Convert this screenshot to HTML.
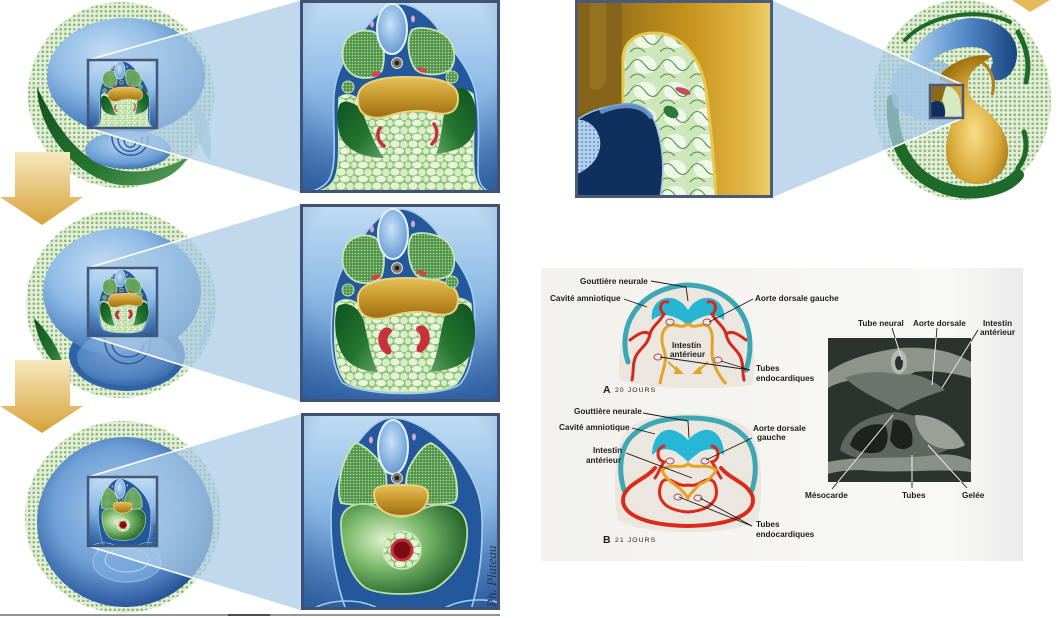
<!DOCTYPE html>
<html><head><meta charset="utf-8"><style>
html,body{margin:0;padding:0;background:#fff;}
svg{display:block;}
text{font-family:"Liberation Sans",Arial,sans-serif;}
.l{font-size:8.2px;font-weight:bold;fill:#1e1e1e;}
.ln{stroke:#1a1a1a;stroke-width:0.9;fill:none;}
</style></head><body>
<svg width="1058" height="618" viewBox="0 0 1058 618" xmlns="http://www.w3.org/2000/svg">
<defs>
<linearGradient id="bgB" x1="0" y1="0" x2="0" y2="1"><stop offset="0" stop-color="#c2dcf3"/><stop offset=".45" stop-color="#8dbbe6"/><stop offset="1" stop-color="#3b6fb2"/></linearGradient>
<radialGradient id="vig" cx=".5" cy=".3" r=".85"><stop offset=".55" stop-color="#1e4a8a" stop-opacity="0"/><stop offset="1" stop-color="#1e4a8a" stop-opacity=".55"/></radialGradient>
<radialGradient id="sph" cx=".38" cy=".32" r=".75"><stop offset="0" stop-color="#c6def4"/><stop offset=".45" stop-color="#8fbbe6"/><stop offset=".8" stop-color="#4f84c4"/><stop offset="1" stop-color="#2a5c9f"/></radialGradient>
<radialGradient id="sph3" cx=".45" cy=".42" r=".6"><stop offset="0" stop-color="#a9cdee"/><stop offset=".6" stop-color="#6d9fd6"/><stop offset=".9" stop-color="#3565a8"/><stop offset="1" stop-color="#234f90"/></radialGradient>
<radialGradient id="yolk" cx=".45" cy=".35" r=".7"><stop offset="0" stop-color="#b4d4f0"/><stop offset=".7" stop-color="#6b9ed6"/><stop offset="1" stop-color="#34669f"/></radialGradient>
<linearGradient id="gold" x1="0" y1="0" x2="0" y2="1"><stop offset="0" stop-color="#e6c05a"/><stop offset=".5" stop-color="#c4952a"/><stop offset="1" stop-color="#9c6d14"/></linearGradient>
<radialGradient id="goldR" cx=".5" cy=".6" r=".6"><stop offset="0" stop-color="#f8de88"/><stop offset=".6" stop-color="#d8a838"/><stop offset="1" stop-color="#a0720f"/></radialGradient>
<linearGradient id="goldH" x1="0" y1="0" x2="1" y2="0"><stop offset="0" stop-color="#7c5a12"/><stop offset=".3" stop-color="#a47a1c"/><stop offset=".6" stop-color="#c8961e"/><stop offset=".85" stop-color="#e0b444"/><stop offset="1" stop-color="#f0cf6c"/></linearGradient>
<linearGradient id="dg" x1="0" y1="0" x2="1" y2="1"><stop offset="0" stop-color="#0e5220"/><stop offset=".6" stop-color="#25752f"/><stop offset="1" stop-color="#5da062"/></linearGradient>
<linearGradient id="dg2" x1="1" y1="0" x2="0" y2="1"><stop offset="0" stop-color="#0e5220"/><stop offset=".6" stop-color="#25752f"/><stop offset="1" stop-color="#5da062"/></linearGradient>
<radialGradient id="heart" cx=".35" cy=".4" r=".7"><stop offset="0" stop-color="#e2f3cf"/><stop offset=".45" stop-color="#7ab86a"/><stop offset="1" stop-color="#1b5c26"/></radialGradient>
<radialGradient id="nt" cx=".45" cy=".4" r=".65"><stop offset="0" stop-color="#c8e2f8"/><stop offset="1" stop-color="#5f95d0"/></radialGradient>
<linearGradient id="blueC" x1="0" y1="0" x2="1" y2="0"><stop offset="0" stop-color="#b4d4f2"/><stop offset=".55" stop-color="#4f86c6"/><stop offset="1" stop-color="#17457f"/></linearGradient>
<linearGradient id="arrowG" x1="0" y1="0" x2="0" y2="1"><stop offset="0" stop-color="#f8e8bf"/><stop offset="1" stop-color="#d6a23a"/></linearGradient>
<linearGradient id="panel" x1="0" y1="0" x2="1" y2="0"><stop offset="0" stop-color="#f2f1ed"/><stop offset=".85" stop-color="#f8f8f6"/><stop offset="1" stop-color="#ebebeb"/></linearGradient>
<pattern id="dots" width="4.5" height="4.5" patternUnits="userSpaceOnUse"><rect width="4.5" height="4.5" fill="#e3eed8"/><circle cx="2.25" cy="2.25" r="1.3" fill="#8db676"/></pattern>
<pattern id="sd" width="3" height="3" patternUnits="userSpaceOnUse"><rect width="3" height="3" fill="#4f9149"/><circle cx="1.5" cy="1.5" r=".9" fill="#a8d596"/></pattern>
<pattern id="bdots" width="4" height="4" patternUnits="userSpaceOnUse"><rect width="4" height="4" fill="#b4d0ec"/><circle cx="2" cy="2" r="1.1" fill="#6f9fd0"/></pattern>
<pattern id="cells" width="18" height="14" patternUnits="userSpaceOnUse"><rect width="18" height="14" fill="#8fc178"/><ellipse cx="5" cy="4" rx="4.6" ry="3.6" fill="#e4f3d6"/><ellipse cx="14" cy="4.5" rx="3.8" ry="3.8" fill="#d8edc6"/><ellipse cx="9" cy="11" rx="5" ry="3.2" fill="#e9f6dd"/><ellipse cx="0" cy="11" rx="3" ry="3.2" fill="#d6ecc4"/><ellipse cx="18" cy="11" rx="3" ry="3.2" fill="#d6ecc4"/></pattern>
<pattern id="cellsBig" width="30" height="26" patternUnits="userSpaceOnUse"><rect width="30" height="26" fill="#cfe6bd"/><ellipse cx="15" cy="13" rx="11" ry="9" fill="#eff8e8"/><path d="M0 13 Q7 2 15 13 T30 13 M0 26 Q7 18 15 26 T30 26" stroke="#4f9444" stroke-width="1.1" fill="none"/></pattern>
<clipPath id="c1"><rect width="200" height="193"/></clipPath>
<clipPath id="c2"><rect width="200" height="198"/></clipPath>
<clipPath id="c3"><rect width="199" height="197"/></clipPath>
<clipPath id="cTR"><rect x="575" y="0" width="198" height="198"/></clipPath>
<clipPath id="cPh"><rect x="828" y="338" width="143" height="144"/></clipPath>

<g id="s1" clip-path="url(#c1)">
<rect width="200" height="193" fill="url(#bgB)"/><rect width="200" height="193" fill="url(#vig)"/>
<path d="M100,4 C86,4 74,16 64,30 C50,50 36,68 34,95 C32,125 38,160 30,178 C26,186 16,191 6,193 L194,193 C184,191 178,184 178,172 C178,145 180,120 176,95 C172,70 152,50 140,32 C130,16 114,4 100,4 Z" fill="#24589c" stroke="#a4cdf0" stroke-width="1.6"/>
<path d="M39,98 C37,130 42,165 34,180 C30,187 22,191 12,193 L188,193 C180,190 175,182 174,170 C172,140 176,110 173,94 C162,86 150,92 140,100 C120,114 80,114 60,100 C52,94 44,93 39,98 Z" fill="url(#cells)" stroke="#c6e8b2" stroke-width="1.5"/>
<path d="M40,104 C45,98 58,104 62,112 C68,125 74,145 84,158 C65,158 45,150 40,135 C36,122 37,110 40,104 Z" fill="url(#dg)"/>
<path d="M160,88 C170,88 176,100 176,118 C176,138 168,150 136,154 C142,140 142,120 146,105 C150,95 154,88 160,88 Z" fill="url(#dg2)"/>
<path d="M58,100 C56,82 80,77 106,77 C132,77 158,80 158,98 C158,114 146,116 130,112 C115,109 100,112 85,117 C68,120 58,114 58,100 Z" fill="url(#gold)" stroke="#ead27a" stroke-width="2"/>
<path d="M44,45 C48,32 62,28 74,32 C84,38 86,55 82,70 C78,78 66,80 55,76 C44,70 40,58 44,45 Z" fill="url(#sd)" stroke="#c7e6b4" stroke-width="1.8"/>
<path d="M112,30 C120,26 138,28 148,38 C156,48 156,62 150,70 C140,76 125,76 116,70 C108,60 106,40 112,30 Z" fill="url(#sd)" stroke="#c7e6b4" stroke-width="1.8"/>
<ellipse cx="92" cy="29" rx="15" ry="25" fill="url(#nt)" stroke="#e4f2ff" stroke-width="2"/>
<circle cx="97" cy="63" r="5.5" fill="#857c70" stroke="#e0e0e0"/><circle cx="97" cy="63" r="2.3" fill="#222"/>
<ellipse cx="72" cy="24" rx="2" ry="3.5" fill="#d6a4cc"/><ellipse cx="113" cy="19" rx="2" ry="3.5" fill="#d6a4cc"/>
<ellipse cx="76" cy="74" rx="5" ry="2.3" fill="#d8404a" transform="rotate(-20 76 74)"/>
<ellipse cx="122" cy="70" rx="5" ry="2.3" fill="#d8404a" transform="rotate(20 122 70)"/>
<circle cx="48" cy="87" r="6" fill="url(#sd)" stroke="#bde0a8"/><circle cx="152" cy="77" r="6" fill="url(#sd)" stroke="#bde0a8"/>
<path d="M80,128 C76,134 78,142 84,146" stroke="#c8303c" stroke-width="3.5" fill="none" stroke-linecap="round"/>
<path d="M134,124 C138,130 138,138 132,144" stroke="#c8303c" stroke-width="3.5" fill="none" stroke-linecap="round"/>
</g>

<g id="s2" clip-path="url(#c2)">
<rect width="200" height="198" fill="url(#bgB)"/><rect width="200" height="198" fill="url(#vig)"/>
<path d="M100,5 C86,5 74,17 64,31 C50,51 36,69 33,97 C30,130 30,160 42,178 C58,192 142,194 160,180 C174,164 176,130 174,100 C172,72 152,52 140,33 C130,17 114,5 100,5 Z" fill="#24589c" stroke="#a4cdf0" stroke-width="1.6"/>
<path d="M36,100 C33,135 34,165 46,178 C62,190 138,192 156,180 C170,165 173,135 171,100 C160,90 150,94 140,102 C120,112 80,112 60,102 C52,94 42,94 36,100 Z" fill="url(#cells)" stroke="#c6e8b2" stroke-width="1.5"/>
<path d="M38,102 C48,96 60,104 64,118 C68,135 70,152 78,168 C62,168 45,160 40,145 C34,130 34,112 38,102 Z" fill="url(#dg)"/>
<path d="M162,100 C172,100 176,115 175,132 C174,152 166,165 130,168 C138,152 140,130 144,115 C148,104 155,100 162,100 Z" fill="url(#dg2)"/>
<path d="M58,97 C56,79 80,74 106,74 C132,74 158,77 158,95 C158,111 146,113 130,109 C115,106 100,109 85,114 C68,117 58,111 58,97 Z" fill="url(#gold)" stroke="#ead27a" stroke-width="2"/>
<path d="M44,46 C48,33 62,29 74,33 C84,39 86,56 82,71 C78,79 66,81 55,77 C44,71 40,59 44,46 Z" fill="url(#sd)" stroke="#c7e6b4" stroke-width="1.8"/>
<path d="M112,31 C120,27 138,29 148,39 C156,49 156,63 150,71 C140,77 125,77 116,71 C108,61 106,41 112,31 Z" fill="url(#sd)" stroke="#c7e6b4" stroke-width="1.8"/>
<ellipse cx="93" cy="30" rx="15" ry="25" fill="url(#nt)" stroke="#e4f2ff" stroke-width="2"/>
<circle cx="97" cy="64" r="5.5" fill="#857c70" stroke="#e0e0e0"/><circle cx="97" cy="64" r="2.3" fill="#222"/>
<ellipse cx="72" cy="25" rx="2" ry="3.5" fill="#d6a4cc"/><ellipse cx="113" cy="20" rx="2" ry="3.5" fill="#d6a4cc"/>
<ellipse cx="76" cy="73" rx="5" ry="2.3" fill="#d8404a" transform="rotate(-20 76 73)"/>
<ellipse cx="122" cy="69" rx="5" ry="2.3" fill="#d8404a" transform="rotate(20 122 69)"/>
<circle cx="48" cy="86" r="6" fill="url(#sd)" stroke="#bde0a8"/><circle cx="152" cy="78" r="6" fill="url(#sd)" stroke="#bde0a8"/>
<path d="M84,124 C76,129 76,143 86,150 C91,152 93,147 90,143 C86,138 87,132 91,129 C94,126 89,122 84,124 Z" fill="#c8303c"/>
<path d="M124,122 C132,127 132,141 122,148 C117,150 115,145 118,141 C122,136 121,130 117,127 C114,124 119,120 124,122 Z" fill="#c8303c"/>
</g>

<g id="s3" clip-path="url(#c3)">
<rect width="199" height="197" fill="url(#bgB)"/><rect width="199" height="197" fill="url(#vig)"/>
<path d="M92,5 C78,5 68,15 58,28 C42,48 30,70 30,105 C30,140 35,170 45,197 L170,197 C178,170 182,140 181,105 C180,70 160,45 140,28 C125,14 106,5 92,5 Z" fill="#24589c" stroke="#a4cdf0" stroke-width="1.6"/>
<path d="M56,30 C68,35 82,50 85,62 C86,75 86,85 80,90 C65,92 48,92 40,90 C36,80 38,60 45,45 C48,38 52,30 56,30 Z" fill="url(#sd)" stroke="#c7e6b4" stroke-width="1.8"/>
<path d="M130,30 C145,38 155,55 156,75 C157,85 155,90 150,90 C135,92 118,92 108,88 C104,80 104,65 108,55 C115,42 122,32 130,30 Z" fill="url(#sd)" stroke="#c7e6b4" stroke-width="1.8"/>
<ellipse cx="92" cy="34" rx="15" ry="27" fill="url(#nt)" stroke="#e4f2ff" stroke-width="2"/>
<circle cx="96" cy="65" r="5.5" fill="#857c70" stroke="#e0e0e0"/><circle cx="96" cy="65" r="2.3" fill="#222"/>
<ellipse cx="70" cy="27" rx="2" ry="3.5" fill="#d6a4cc"/><ellipse cx="113" cy="24" rx="2" ry="3.5" fill="#d6a4cc"/>
<ellipse cx="76" cy="81" rx="5" ry="2.3" fill="#d8404a" transform="rotate(-20 76 81)"/>
<ellipse cx="121" cy="76" rx="5" ry="2.3" fill="#d8404a" transform="rotate(20 121 76)"/>
<path d="M40,110 C40,95 55,88 70,92 C82,96 90,104 100,104 C110,104 120,94 135,92 C155,90 168,100 166,125 C164,150 150,165 135,175 C120,183 80,183 65,175 C50,165 40,140 40,110 Z" fill="url(#heart)" stroke="#b8e0a0" stroke-width="1.8"/>
<path d="M73,80 C73,72 86,72 100,72 C114,72 127,72 127,82 C127,96 115,103 100,103 C85,103 73,95 73,80 Z" fill="url(#gold)" stroke="#ead27a" stroke-width="2"/>
<circle cx="101" cy="137" r="19" fill="url(#cells)" stroke="#c6e8b2" stroke-width="1.5"/>
<circle cx="101" cy="137" r="10" fill="#7e0a14" stroke="#c8303c" stroke-width="3"/>
<path d="M10,197 C30,185 60,185 80,197" stroke="#a4cdf0" stroke-width="1.5" fill="none"/>
<path d="M140,197 C160,185 185,185 199,190" stroke="#a4cdf0" stroke-width="1.5" fill="none"/>
<text transform="translate(195,194) rotate(-90)" style="font-family:'Liberation Serif',serif;font-style:italic;font-size:13px;fill:#1f3558">Ph. Plateau</text>
</g>
</defs>

<circle cx="121" cy="95" r="93" fill="url(#dots)"/>
<path d="M190,95 C205,110 214,130 210,160 C200,150 192,125 190,95 Z" fill="#a9d0d0" opacity=".85"/>
<ellipse cx="126" cy="76" rx="79" ry="58" fill="url(#sph)"/>
<path d="M37,87 C38,130 75,178 120,185 C155,188 178,175 188,157 C165,170 140,174 118,170 C85,164 60,135 37,87 Z" fill="url(#dg)"/>
<ellipse cx="128" cy="150" rx="43" ry="19" fill="url(#yolk)"/>
<path d="M112,134 C110,162 150,162 148,136" stroke="#2a5a98" fill="none" stroke-width="1.4"/>
<path d="M118,137 C117,156 143,156 142,137" stroke="#2a5a98" fill="none" stroke-width="1.4"/>
<path d="M124,139 C124,150 137,150 136,139" stroke="#2a5a98" fill="none" stroke-width="1.4"/>

<ellipse cx="121" cy="304" rx="95" ry="94" fill="url(#dots)"/>
<path d="M213,305 C208,320 202,335 198,352 C206,340 212,325 213,305 Z" fill="#9ec8c8"/>
<ellipse cx="127" cy="355" rx="58" ry="36" fill="#2f63a6"/>
<ellipse cx="122" cy="292" rx="79" ry="64" fill="url(#sph)"/>
<ellipse cx="127" cy="358" rx="50" ry="28" fill="url(#yolk)" opacity=".55"/>
<path d="M105,338 C103,372 152,372 150,340" stroke="#2a5a98" fill="none" stroke-width="1.4"/>
<path d="M112,342 C111,362 145,362 144,342" stroke="#2a5a98" fill="none" stroke-width="1.4"/>
<path d="M34,318 C46,330 60,348 66,374 C52,364 38,345 34,318 Z" fill="url(#dg)"/>

<ellipse cx="123" cy="517" rx="98" ry="96" fill="url(#dots)"/>
<ellipse cx="125" cy="522" rx="88" ry="85" fill="url(#sph3)"/>
<ellipse cx="127" cy="562" rx="34" ry="20" fill="#7eaee0" opacity=".6" stroke="#b6d6f2" stroke-width="1.2"/>
<ellipse cx="127" cy="560" rx="22" ry="12" fill="none" stroke="#b6d6f2" stroke-width="1"/>

<polygon points="15,152 70,152 70,197 83,197 42,225 0,197 15,197" fill="url(#arrowG)"/>
<polygon points="15,360 70,360 70,406 83,406 42,433 0,406 15,406" fill="url(#arrowG)"/>

<polygon points="88,60 300,0 300,193 88,128" fill="#a9cbe6" opacity=".72"/>
<polygon points="88,268 300,204 300,402 88,336" fill="#a9cbe6" opacity=".72"/>
<polygon points="88,477 301,413 301,611 88,546" fill="#a9cbe6" opacity=".72"/>
<g stroke="#fff" stroke-width="1.6">
<line x1="88" y1="60" x2="300" y2="0"/><line x1="88" y1="128" x2="300" y2="193"/>
<line x1="88" y1="268" x2="300" y2="204"/><line x1="88" y1="336" x2="300" y2="402"/>
<line x1="88" y1="477" x2="301" y2="413"/><line x1="88" y1="546" x2="301" y2="611"/>
</g>

<use href="#s1" transform="translate(88,60) scale(0.345,0.352)"/>
<rect x="88" y="60" width="69" height="68" fill="none" stroke="#44587a" stroke-width="2.5"/>
<use href="#s2" transform="translate(88,268) scale(0.345,0.343)"/>
<rect x="88" y="268" width="69" height="68" fill="none" stroke="#44587a" stroke-width="2.5"/>
<use href="#s3" transform="translate(88,477) scale(0.347,0.35)"/>
<rect x="88" y="477" width="69" height="69" fill="none" stroke="#44587a" stroke-width="2.5"/>

<use href="#s1" transform="translate(300,0)"/>
<rect x="301.5" y="1.5" width="197" height="190" fill="none" stroke="#3f5275" stroke-width="3"/>
<use href="#s2" transform="translate(300,204)"/>
<rect x="301.5" y="205.5" width="197" height="195" fill="none" stroke="#3f5275" stroke-width="3"/>
<use href="#s3" transform="translate(301,413)"/>
<rect x="302.5" y="414.5" width="196" height="194" fill="none" stroke="#3f5275" stroke-width="3"/>

<line x1="0" y1="615" x2="500" y2="615" stroke="#555" stroke-width="1.2"/>
<line x1="228" y1="615" x2="270" y2="615" stroke="#222" stroke-width="1.6"/>

<ellipse cx="962" cy="100" rx="89" ry="100" fill="url(#dots)"/>
<path d="M893,100 C890,150 915,185 960,192 C990,195 1010,185 1018,175" stroke="#1d6a2b" stroke-width="12" fill="none" stroke-linecap="round"/>
<path d="M905,40 C930,12 985,8 1010,22" stroke="#1d6a2b" stroke-width="4" fill="none" stroke-linecap="round"/>
<path d="M1018,32 C1028,50 1030,65 1026,82" stroke="#1d6a2b" stroke-width="5" fill="none" stroke-linecap="round"/>
<path d="M1024,132 C1028,145 1026,158 1018,168" stroke="#1d6a2b" stroke-width="5" fill="none" stroke-linecap="round"/>
<path d="M890,85 C895,65 910,58 935,60 C950,62 955,70 950,80 C940,95 945,115 960,125 C935,125 905,118 893,105 Z" fill="#8fb9de" opacity=".75"/>
<path d="M908,65 C910,45 935,22 970,18 C1000,18 1018,35 1017,55 C1016,72 1005,82 995,80 C988,78 990,70 993,62 C992,52 982,46 968,47 C950,48 935,55 925,67 Z" fill="url(#blueC)"/>
<path d="M940,75 C950,62 975,52 992,56 C985,62 975,66 970,75 C966,85 968,95 975,102 C995,115 1010,135 1008,155 C1006,175 990,185 975,184 C958,183 946,170 946,150 C946,130 958,115 958,100 C958,90 950,82 940,80 Z" fill="url(#goldR)"/>
<path d="M982,62 C992,70 996,82 992,95" stroke="#b08020" stroke-width="3" fill="none"/>
<polygon points="1012,0 1050,0 1030,12" fill="#e4bb5c"/>

<polygon points="773,0 963,85 963,118 773,198" fill="#a9cbe6" opacity=".72"/>
<line x1="773" y1="0" x2="963" y2="85" stroke="#fff" stroke-width="1.6"/>
<line x1="773" y1="198" x2="963" y2="118" stroke="#fff" stroke-width="1.6"/>
<rect x="930" y="85" width="33" height="33" fill="#d2a236"/>
<path d="M930,85 L946,85 L946,98 C942,102 936,102 930,101 Z" fill="#8a6a1a"/>
<path d="M946,86 C952,86 958,92 960,100 L962,118 L944,118 C946,110 945,104 942,100 Z" fill="#d4eac2"/>
<path d="M930,103 C936,100 942,100 944,106 C946,112 945,116 944,118 L930,118 Z" fill="#0f2f5e"/>
<rect x="930" y="85" width="33" height="33" fill="none" stroke="#4a5a78" stroke-width="2.5"/>

<g clip-path="url(#cTR)">
<rect x="575" y="0" width="198" height="198" fill="url(#goldH)"/>
<path d="M575,0 L622,0 L622,100 C618,110 600,112 575,112 Z" fill="#86651a"/>
<path d="M590,0 L606,0 L606,80 C604,90 596,92 590,88 Z" fill="#a07c24" opacity=".6"/>
<path d="M623,198 L623,60 C623,42 635,33 655,33 C680,33 700,55 706,90 C710,120 714,160 716,198 Z" fill="url(#cellsBig)" stroke="#e8c850" stroke-width="3"/>
<path d="M575,122 C588,110 608,106 625,104 C642,102 652,112 657,128 C663,148 665,170 660,198 L575,198 Z" fill="#0f2f5e" stroke="#9cc4ec" stroke-width="1.5"/>
<path d="M600,112 C615,105 640,100 652,118" stroke="#6f9fd4" stroke-width="5" fill="none" opacity=".85"/>
<path d="M575,120 C588,118 598,128 600,140 C602,155 592,168 575,175 Z" fill="url(#bdots)"/>
<ellipse cx="683" cy="91" rx="8" ry="3" fill="#c84a5c" transform="rotate(20 683 91)"/>
<ellipse cx="671" cy="112" rx="8" ry="5.5" fill="#2a7a3c" transform="rotate(30 671 112)"/>
</g>
<rect x="576.5" y="1.5" width="195" height="195" fill="none" stroke="#4a5a78" stroke-width="3"/>

<rect x="541" y="268" width="482" height="293" fill="url(#panel)"/>

<path d="M620,380 C614,340 632,292 688,284 C744,292 762,340 752,385 C720,390 650,390 620,380 Z" fill="#ebe7df"/>
<path d="M628,362 C616,325 640,287 688,285 C736,287 760,325 746,370" stroke="#3ea7b4" stroke-width="5" fill="none" stroke-linecap="round"/>
<path d="M652,320 C650,306 660,296 672,298 C680,300 684,304 688,310 C692,304 696,300 704,298 C716,296 726,306 724,320 C716,314 708,314 700,318 C694,320 690,324 688,326 C686,324 682,320 676,318 C668,314 660,314 652,320 Z" fill="#27b5d4"/>
<g stroke="#d7281c" stroke-width="3" fill="none" stroke-linecap="round">
<path d="M668,302 C660,300 658,310 664,314 C660,322 652,326 650,334 C648,345 640,348 636,356 C632,364 634,372 632,380"/>
<path d="M708,302 C716,300 718,310 712,314 C716,322 724,326 726,334 C728,345 736,348 740,356 C744,364 742,372 744,380"/>
<path d="M650,334 C644,330 638,334 630,340"/><path d="M726,334 C732,330 738,334 746,340"/>
</g>
<path d="M660,384 C662,370 668,362 664,350 C660,338 662,330 668,326 C676,322 680,330 688,324 C696,330 700,322 708,326 C714,332 712,342 712,352 C712,362 716,372 726,384" stroke="#e2a326" stroke-width="3" fill="none"/>
<path d="M668,362 L678,371" stroke="#e2a326" stroke-width="2"/><polygon points="676,366 684,374 674,374" fill="#e2a326"/>
<path d="M708,362 L698,371" stroke="#e2a326" stroke-width="2"/><polygon points="700,366 692,374 702,374" fill="#e2a326"/>
<g fill="#f2e8e2" stroke="#9c4e5c" stroke-width="1">
<ellipse cx="670" cy="322" rx="4" ry="3"/><ellipse cx="707" cy="322" rx="4" ry="3"/><ellipse cx="658" cy="357" rx="4" ry="3"/><ellipse cx="718" cy="360" rx="4" ry="3"/>
</g>
<g class="ln">
<polyline points="651,281 686,287 688,301"/>
<line x1="624" y1="299" x2="647" y2="307"/>
<line x1="753" y1="299" x2="709" y2="322"/>
<line x1="750" y1="370" x2="660" y2="357"/><line x1="750" y1="370" x2="721" y2="361"/>
</g>
<text class="l" x="580" y="284">Gouttière neurale</text>
<text class="l" x="550" y="301">Cavité amniotique</text>
<text class="l" x="755" y="301">Aorte dorsale gauche</text>
<text class="l" x="672" y="348">Intestin</text>
<text class="l" x="670" y="357">antérieur</text>
<text class="l" x="756" y="371">Tubes</text>
<text class="l" x="756" y="381">endocardiques</text>
<text x="603" y="393" style="font-size:10.5px;font-weight:bold;fill:#1e1e1e">A</text>
<text x="615" y="392" style="font-size:6.8px;fill:#222;letter-spacing:1.1px">20 JOURS</text>

<path d="M618,520 C612,490 614,450 626,430 C640,418 660,414 688,414 C716,414 736,418 750,430 C762,450 764,490 758,520 C740,536 640,536 618,520 Z" fill="#ebe7df"/>
<path d="M624,490 C618,470 620,448 632,436 C645,424 660,418 688,418 C716,418 732,424 744,436 C756,448 758,470 752,490" stroke="#3ea7b4" stroke-width="5" fill="none" stroke-linecap="round"/>
<path d="M652,455 C652,440 660,428 672,430 C680,432 684,436 688,440 C692,436 696,432 704,430 C716,428 724,440 724,455 C716,448 708,448 700,452 C694,456 690,460 688,462 C686,460 682,456 676,452 C668,448 660,448 652,455 Z" fill="#26b6d6"/>
<g stroke="#d92a1c" fill="none" stroke-linecap="round">
<path d="M655,468 C645,480 630,482 624,495 C618,512 640,525 688,526 C736,525 758,512 752,495 C746,482 731,480 721,468" stroke-width="4"/>
<path d="M662,482 C656,495 660,510 688,512 C716,510 720,495 714,482 C706,474 700,488 688,485 C676,488 670,474 662,482 Z" stroke-width="3"/>
<path d="M664,446 C656,448 656,460 664,462 C660,468 658,474 655,478" stroke-width="3"/>
<path d="M712,446 C720,448 720,460 712,462 C716,468 718,474 721,478" stroke-width="3"/>
</g>
<path d="M662,470 C672,462 680,470 688,464 C696,470 706,462 716,470 C712,478 706,482 700,484 C694,490 690,494 688,498 C684,492 680,488 674,484 C668,480 664,476 662,470 Z" stroke="#e3a326" stroke-width="3" fill="none"/>
<g fill="#f2e8e2" stroke="#9c4e5c" stroke-width="1">
<ellipse cx="670" cy="461" rx="4" ry="3"/><ellipse cx="705" cy="461" rx="4" ry="3"/><ellipse cx="678" cy="497" rx="4" ry="3"/><ellipse cx="698" cy="498" rx="4" ry="3"/>
</g>
<g class="ln">
<polyline points="643,413 688,421 689,438"/>
<line x1="632" y1="428" x2="655" y2="434"/>
<line x1="626" y1="453" x2="692" y2="478"/>
<line x1="752" y1="438" x2="706" y2="460"/>
<line x1="752" y1="526" x2="679" y2="497"/><line x1="752" y1="526" x2="700" y2="498"/>
</g>
<text class="l" x="574" y="414">Gouttière neurale</text>
<text class="l" x="559" y="430">Cavité amniotique</text>
<text class="l" x="753" y="431">Aorte dorsale</text>
<text class="l" x="757" y="440">gauche</text>
<text class="l" x="593" y="453">Intestin</text>
<text class="l" x="586" y="463">antérieur</text>
<text class="l" x="756" y="527">Tubes</text>
<text class="l" x="756" y="537">endocardiques</text>
<text x="603" y="543" style="font-size:10.5px;font-weight:bold;fill:#1e1e1e">B</text>
<text x="615" y="542" style="font-size:6.8px;fill:#222;letter-spacing:1.1px">21 JOURS</text>

<rect x="828" y="338" width="143" height="144" fill="#2c332f"/>
<g clip-path="url(#cPh)">
<path d="M828,372 C845,360 870,352 900,348 C930,346 955,352 971,362 L971,378 C950,372 930,370 915,372 C900,380 880,382 860,380 C845,380 835,384 828,388 Z" fill="#8e938b"/>
<path d="M845,378 C860,372 880,370 900,375 C915,372 930,378 945,390 C930,395 915,400 898,410 C880,400 860,392 845,378 Z" fill="#6d746d"/>
<ellipse cx="899" cy="362" rx="8" ry="12" fill="#b5b9b0"/><ellipse cx="899" cy="363" rx="4" ry="7" fill="#2c332f"/>
<path d="M840,450 C845,425 870,415 895,412 C920,415 945,425 955,445 C940,455 920,462 895,460 C870,462 850,458 840,450 Z" fill="#5f665f"/>
<path d="M850,445 C855,428 870,422 885,425 C890,435 888,448 880,452 C868,455 856,452 850,445 Z" fill="#1d221f"/>
<path d="M893,420 C905,418 915,428 912,445 C905,452 895,450 890,440 Z" fill="#1d221f"/>
<path d="M915,415 C935,415 955,425 965,445 C955,452 935,450 925,440 C918,432 915,425 915,415 Z" fill="#9aa098"/>
<path d="M828,462 C860,455 900,460 935,455 C950,453 962,456 971,460 L971,472 C940,468 900,474 860,470 C845,470 835,472 828,474 Z" fill="#8a8f88"/>
</g>
<g stroke="#1a1a1a" stroke-width="0.9">
<line x1="892" y1="328" x2="902" y2="360"/><line x1="937" y1="328" x2="932" y2="385"/>
<line x1="978" y1="330" x2="942" y2="388"/><line x1="832" y1="489" x2="893" y2="415"/>
<line x1="912" y1="488" x2="912" y2="455"/><line x1="967" y1="488" x2="928" y2="445"/>
</g>
<g stroke="#f2f2f2" stroke-width="1" clip-path="url(#cPh)">
<line x1="892" y1="328" x2="902" y2="360"/><line x1="937" y1="328" x2="932" y2="385"/>
<line x1="978" y1="330" x2="942" y2="388"/><line x1="832" y1="489" x2="893" y2="415"/>
<line x1="912" y1="488" x2="912" y2="455"/><line x1="967" y1="488" x2="928" y2="445"/>
</g>
<text class="l" x="858" y="326">Tube neural</text>
<text class="l" x="913" y="326">Aorte dorsale</text>
<text class="l" x="983" y="326">Intestin</text>
<text class="l" x="980" y="335">antérieur</text>
<text class="l" x="805" y="498">Mésocarde</text>
<text class="l" x="902" y="498">Tubes</text>
<text class="l" x="962" y="498">Gelée</text>
</svg>
</body></html>
